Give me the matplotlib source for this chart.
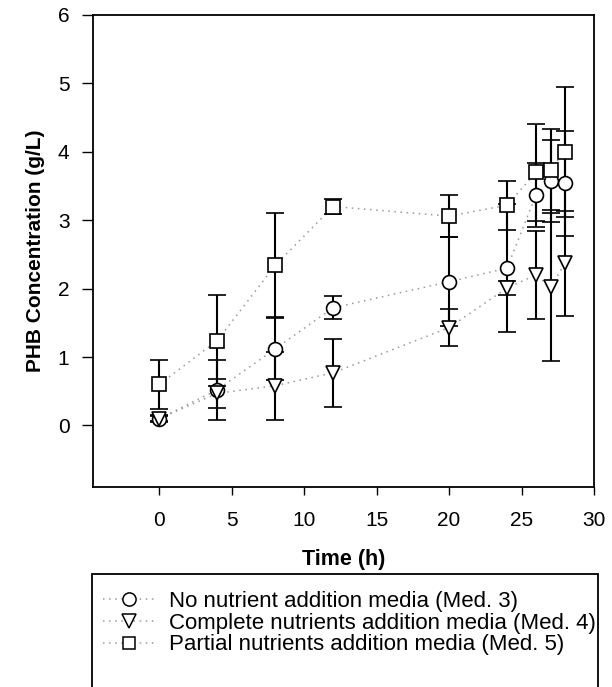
import matplotlib
matplotlib.use('Agg')
import matplotlib.pyplot as plt
from matplotlib.lines import Line2D
from matplotlib.patches import Rectangle

plt.rcParams['font.family'] = ['Liberation Sans', 'DejaVu Sans']

time_h = [0, 4, 8, 12, 20, 24, 26, 27, 28]

med3 = [0.10, 0.52, 1.12, 1.72, 2.10, 2.30, 3.37, 3.57, 3.54]
med3_err = [0.05, 0.44, 0.46, 0.17, 0.65, 0.94, 0.47, 0.60, 0.77]

med4 = [0.10, 0.47, 0.58, 0.77, 1.43, 2.01, 2.20, 2.02, 2.37]
med4_err = [0.04, 0.21, 0.50, 0.50, 0.27, 0.10, 0.64, 1.08, 0.77]

med5 = [0.60, 1.24, 2.34, 3.20, 3.06, 3.22, 3.70, 3.74, 4.00]
med5_err = [0.36, 0.66, 0.77, 0.11, 0.31, 0.36, 0.71, 0.59, 0.95]

labels = ['No nutrient addition media (Med. 3)',
          'Complete nutrients addition media (Med. 4)',
          'Partial nutrients addition media (Med. 5)']
markers = ['o', 'v', 's']

W, H = 612, 687
fig = plt.figure(figsize=(W / 100, H / 100), dpi=100)
ax = fig.add_axes([93 / W, 1 - 487 / H, (594 - 93) / W, (487 - 15) / H])

dotted = (0, (1, 3))
series = [(med3, med3_err), (med4, med4_err), (med5, med5_err)]
for (vals, errs), m in zip(series, markers):
    ax.plot(time_h, vals, color='#999999', lw=1.1, ls=dotted, zorder=1)
    ax.errorbar(time_h, vals, yerr=errs, fmt=m, ms=10 if m != 's' else 9.5,
                mfc='white', mec='black', mew=1.2, ecolor='black',
                elinewidth=1.5, capsize=6.5, capthick=1.5, zorder=3)

ax.set_xlim(-4.57, 30)
ax.set_ylim(-0.9, 6)
ax.set_xticks([0, 5, 10, 15, 20, 25, 30])
ax.set_yticks([0, 1, 2, 3, 4, 5, 6])
ax.tick_params(direction='out', width=1, labelsize=15)
ax.tick_params(axis='y', length=8, pad=9)
ax.tick_params(axis='x', length=6, pad=11)
for s in ax.spines.values():
    s.set_linewidth(1.3)

ax.set_xlabel('Time (h)', fontsize=15.5, fontweight='bold', labelpad=14)
ax.set_ylabel('PHB Concentration (g/L)', fontsize=15, fontweight='bold', labelpad=9)

# legend box (runs off the bottom of the figure as in the original)
fig.patches.append(Rectangle((92 / W, -0.05), (598 - 92) / W, 0.05 + 1 - 574 / H,
                             transform=fig.transFigure, fill=False,
                             edgecolor='black', lw=1.3))

handles = [Line2D([], [], color='#999999', ls=dotted, lw=1.1, marker=m,
                  ms=9.5 if m != 's' else 9, mfc='white', mec='black', mew=1.1)
           for m in markers]
fig.legend(handles, labels, loc='upper left', bbox_to_anchor=(103 / W, 1 - 591 / H),
           frameon=False, fontsize=16, handlelength=2.35, handletextpad=0.63,
           labelspacing=0.03, borderpad=0, borderaxespad=0)

plt.savefig('out.png', dpi=100)
